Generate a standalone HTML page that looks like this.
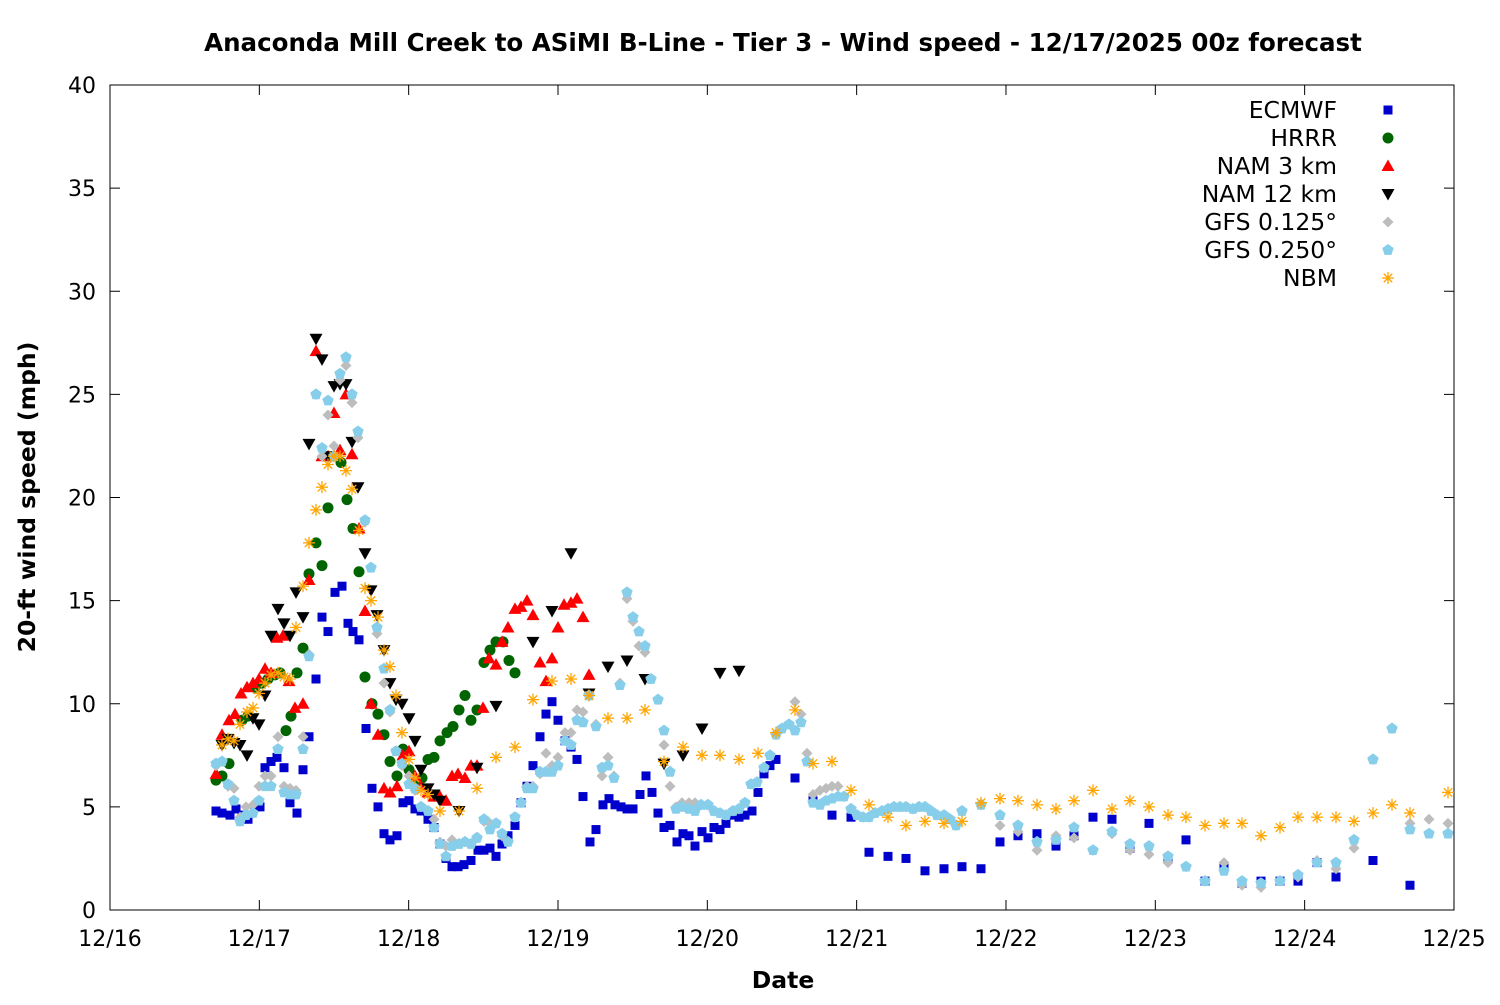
<!DOCTYPE html>
<html><head><meta charset="utf-8"><style>
html,body{margin:0;padding:0;background:#fff;}
svg text{font-family:"DejaVu Sans","Liberation Sans",sans-serif;}
</style></head><body>
<svg id="s" width="1500" height="1000" xmlns="http://www.w3.org/2000/svg">
<rect width="1500" height="1000" fill="#fff"/>
<text x="783" y="51" font-size="24.5" font-weight="bold" text-anchor="middle">Anaconda Mill Creek to ASiMI B-Line - Tier 3 - Wind speed - 12/17/2025 00z forecast</text>
<rect x="110" y="85" width="1344" height="825" fill="none" stroke="#000" stroke-width="1"/>
<g id="ax" font-size="22"></g>
<text transform="translate(35,497) rotate(-90)" font-size="23.5" font-weight="bold" text-anchor="middle">20-ft wind speed (mph)</text>
<text x="783" y="988" font-size="23.5" font-weight="bold" text-anchor="middle">Date</text>
<g id="pts"></g>
<g id="leg" font-size="23.5"></g>
</svg>
<script>
var NS="http://www.w3.org/2000/svg";
function el(t,a,p){var e=document.createElementNS(NS,t);for(var k in a)e.setAttribute(k,a[k]);(p||document.getElementById('pts')).appendChild(e);return e;}
function Y(v){return 910-v*20.625;}
var ax=document.getElementById('ax');
for(var i=0;i<=8;i++){var v=i*5,y=Y(v);
 el('line',{x1:110,y1:y,x2:120,y2:y,stroke:'#000'},ax);el('line',{x1:1454,y1:y,x2:1444,y2:y,stroke:'#000'},ax);
 var t=el('text',{x:96,y:y+8,'text-anchor':'end'},ax);t.textContent=v;}
var days=['12/16','12/17','12/18','12/19','12/20','12/21','12/22','12/23','12/24','12/25'];
for(var i=0;i<10;i++){var x=110+i*149.33;
 el('line',{x1:x,y1:910,x2:x,y2:900,stroke:'#000'},ax);el('line',{x1:x,y1:85,x2:x,y2:95,stroke:'#000'},ax);
 var t=el('text',{x:x,y:946,'text-anchor':'middle'},ax);t.textContent=days[i];}
function mk(type,x,y,g){
 if(type==0)el('rect',{x:x-4.5,y:y-4.5,width:9,height:9,fill:'#0000cc'},g);
 else if(type==1)el('circle',{cx:x,cy:y,r:5.5,fill:'#006400'},g);
 else if(type==2)el('polygon',{points:(x)+','+(y-6.5)+' '+(x-6.5)+','+(y+5)+' '+(x+6.5)+','+(y+5),fill:'#ff0000'},g);
 else if(type==3)el('polygon',{points:(x)+','+(y+6.5)+' '+(x-6.5)+','+(y-5)+' '+(x+6.5)+','+(y-5),fill:'#000'},g);
 else if(type==4)el('polygon',{points:x+','+(y-5.5)+' '+(x+5.5)+','+y+' '+x+','+(y+5.5)+' '+(x-5.5)+','+y,fill:'#bdbdbd'},g);
 else if(type==5){var p=[];for(var k=0;k<5;k++){var a=-Math.PI/2+k*2*Math.PI/5;p.push((x+6*Math.cos(a)).toFixed(1)+','+(y+6*Math.sin(a)).toFixed(1));}el('polygon',{points:p.join(' '),fill:'#87ceeb'},g);}
 else {for(var k=0;k<4;k++){var a=k*Math.PI/4;el('line',{x1:x-6*Math.cos(a),y1:y-6*Math.sin(a),x2:x+6*Math.cos(a),y2:y+6*Math.sin(a),stroke:'#ffa500','stroke-width':1.3},g);}}
}
var D=[
[[216,4.8],[222,4.7],[230,4.6],[236,4.9],[242,4.6],[248,4.4],[255,5],[260,5],[265,6.9],[271,7.2],[277,7.4],[284,6.9],[290,5.2],[297,4.7],[303,6.8],[309,8.4],[316,11.2],[322,14.2],[328,13.5],[335,15.4],[342,15.7],[348,13.9],[353,13.5],[359,13.1],[366,8.8],[372,5.9],[378,5],[384,3.7],[390,3.4],[397,3.6],[403,5.2],[409,5.3],[415,4.9],[421,4.8],[428,4.4],[434,4],[440,3.2],[446,2.5],[452,2.1],[458,2.1],[464,2.2],[471,2.4],[478,2.9],[484,2.9],[490,3],[496,2.6],[502,3.2],[508,3.6],[515,4.1],[521,5.2],[527,6],[533,7],[540,8.4],[546,9.5],[552,10.1],[558,9.2],[565,8.2],[571,7.9],[577,7.3],[583,5.5],[590,3.3],[596,3.9],[603,5.1],[609,5.4],[615,5.1],[621,5],[627,4.9],[633,4.9],[640,5.6],[646,6.5],[652,5.7],[658,4.7],[664,4],[670,4.1],[677,3.3],[683,3.7],[689,3.6],[695,3.1],[702,3.8],[708,3.5],[714,4],[720,3.9],[726,4.2],[733,4.6],[739,4.5],[745,4.6],[752,4.8],[758,5.7],[764,6.6],[770,7],[776,7.3],[795,6.4],[813,5.3],[832,4.6],[851,4.5],[869,2.8],[888,2.6],[906,2.5],[925,1.9],[944,2],[962,2.1],[981,2],[1000,3.3],[1018,3.6],[1037,3.7],[1056,3.1],[1074,3.6],[1093,4.5],[1112,4.4],[1130,3],[1149,4.2],[1168,2.5],[1186,3.4],[1205,1.4],[1224,2.1],[1242,1.3],[1261,1.4],[1280,1.4],[1298,1.4],[1317,2.3],[1336,1.6],[1373,2.4],[1410,1.2]],
[[216,6.3],[222,6.5],[229,7.1],[242,9.2],[248,9.4],[255,10.8],[262,11],[268,11.2],[275,11.4],[280,11.5],[286,8.7],[291,9.4],[297,11.5],[303,12.7],[309,16.3],[316,17.8],[322,16.7],[328,19.5],[341,21.7],[347,19.9],[353,18.5],[359,16.4],[365,11.3],[372,10],[378,9.5],[384,8.5],[390,7.2],[397,6.5],[403,7.8],[409,6.8],[415,6.2],[422,6.4],[428,7.3],[434,7.4],[440,8.2],[447,8.6],[453,8.9],[459,9.7],[465,10.4],[471,9.2],[477,9.7],[484,12],[490,12.6],[496,13],[503,13],[509,12.1],[515,11.5]],
[[216,6.6],[222,8.5],[229,9.2],[235,9.5],[241,10.5],[247,10.8],[253,11],[259,11.2],[265,11.7],[271,11.5],[277,13.2],[283,13.3],[289,11.1],[295,9.8],[303,10],[309,16],[316,27.1],[322,22],[328,22],[334,24.1],[340,22.3],[346,25],[352,22.1],[359,18.5],[365,14.5],[371,10],[378,8.5],[384,5.9],[390,5.7],[397,6],[403,7.5],[409,7.7],[415,6.5],[421,6],[428,5.7],[434,5.5],[440,5.5],[446,5.3],[452,6.5],[458,6.6],[465,6.4],[471,7],[477,7],[483,9.8],[489,12.2],[496,11.9],[502,13],[508,13.7],[515,14.6],[521,14.7],[527,15],[533,14.3],[540,12],[546,11.1],[552,12.2],[558,13.7],[564,14.8],[571,14.9],[577,15.1],[583,14.2],[589,11.4]],
[[222,8],[228,8.3],[234,8.1],[240,8],[247,7.5],[253,9.3],[259,9],[265,10.4],[271,13.3],[278,14.6],[284,13.9],[290,13.3],[296,15.4],[303,14.2],[309,22.6],[316,27.7],[322,26.7],[328,22],[334,25.4],[340,25.5],[346,25.5],[352,22.7],[358,20.5],[365,17.3],[371,15.5],[377,14.3],[384,12.6],[390,11],[396,10.2],[402,10],[409,9.3],[415,8.2],[421,6.8],[428,5.9],[434,5.6],[440,5.3],[459,4.8],[477,6.9],[496,9.9],[533,13],[552,14.5],[571,17.3],[589,10.5],[608,11.8],[627,12.1],[645,11.2],[664,7.1],[683,7.5],[702,8.8],[720,11.5],[739,11.6]],
[[216,7],[222,7.2],[228,6],[234,5.9],[240,4.5],[246,5],[253,5.1],[259,6],[265,6.5],[271,6.5],[278,8.4],[284,6],[290,5.9],[296,5.8],[303,8.4],[309,12.4],[316,25],[322,22],[328,24],[334,22.5],[340,25.7],[346,26.4],[352,24.6],[358,22.9],[365,18.8],[371,16.6],[377,13.4],[384,11],[390,9.6],[396,7.7],[402,7],[409,6.5],[415,5.8],[421,5],[428,4.8],[434,4.4],[440,3.3],[446,3.1],[452,3.4],[459,3.2],[465,3.3],[471,3.2],[477,3.5],[484,4.3],[490,4.2],[496,4.2],[502,3.6],[508,3.3],[515,4.5],[521,5.2],[527,6],[533,6],[540,6.6],[546,7.6],[552,7],[558,7.4],[565,8.6],[571,8.6],[577,9.7],[583,9.6],[589,10.4],[596,9],[602,6.5],[608,7.4],[614,6.5],[620,11],[627,15.1],[633,14],[639,12.8],[645,12.5],[651,11.2],[658,10.2],[664,8],[670,6],[676,5],[682,5.2],[689,5.2],[695,5.2],[701,5.1],[708,5.1],[714,4.8],[720,4.7],[726,4.6],[733,4.8],[739,4.9],[745,5.2],[751,6.1],[757,6.2],[764,6.9],[770,7.5],[776,8.5],[782,8.8],[789,9],[795,10.1],[801,9.5],[807,7.6],[813,5.6],[820,5.8],[826,5.9],[832,6],[838,6],[844,5.5],[851,4.9],[857,4.6],[863,4.5],[869,4.5],[875,4.7],[882,4.8],[888,4.9],[894,5],[900,5],[906,5],[913,4.9],[919,5],[925,5],[931,4.8],[937,4.6],[944,4.6],[950,4.4],[956,4.1],[962,4.8],[981,5.1],[1000,4.1],[1018,3.8],[1037,2.9],[1056,3.6],[1074,3.5],[1093,2.9],[1112,3.7],[1130,2.9],[1149,2.7],[1168,2.3],[1186,2.1],[1205,1.4],[1224,2.3],[1242,1.2],[1261,1.1],[1280,1.4],[1298,1.6],[1317,2.4],[1336,2],[1354,3],[1373,7.3],[1392,8.8],[1410,4.2],[1429,4.4],[1448,4.2]],
null,
[[222,8],[228,8.3],[234,8.2],[240,9],[247,9.6],[253,9.8],[259,10.5],[265,11],[271,11.4],[278,11.5],[284,11.3],[290,11.2],[296,13.7],[303,15.7],[309,17.8],[316,19.4],[322,20.5],[328,21.6],[334,22],[340,22],[346,21.3],[352,20.4],[359,18.4],[365,15.6],[371,15],[378,14.2],[384,12.6],[390,11.8],[396,10.4],[402,8.6],[409,7.3],[415,6.4],[421,5.8],[428,5.6],[440,4.8],[459,4.8],[477,5.9],[496,7.4],[515,7.9],[533,10.2],[552,11.1],[571,11.2],[589,10.4],[608,9.3],[627,9.3],[645,9.7],[664,7.2],[683,7.9],[702,7.5],[720,7.5],[739,7.3],[758,7.6],[776,8.6],[795,9.7],[813,7.1],[832,7.2],[851,5.8],[869,5.1],[888,4.5],[906,4.1],[925,4.3],[944,4.2],[962,4.3],[981,5.2],[1000,5.4],[1018,5.3],[1037,5.1],[1056,4.9],[1074,5.3],[1093,5.8],[1112,4.9],[1130,5.3],[1149,5],[1168,4.6],[1186,4.5],[1205,4.1],[1224,4.2],[1242,4.2],[1261,3.6],[1280,4],[1298,4.5],[1317,4.5],[1336,4.5],[1354,4.3],[1373,4.7],[1392,5.1],[1410,4.7],[1448,5.7]]
];
var ov={216:7.1,222:7.2,228:6.1,234:5.3,240:4.3,246:4.6,253:4.7,259:5.3,265:6,271:6,278:7.8,284:5.7,290:5.6,296:5.6,303:7.8,309:12.3,316:25,322:22.4,328:24.7,334:22,340:26,346:26.8,352:25,358:23.2,365:18.9,371:16.6,377:13.7,384:11.7,390:9.7,396:7.7,402:7.1,409:6.1,415:5.9,421:5,434:4,440:3.2,446:2.6,452:3.1,484:4.4,490:3.9,502:3.7,1410:3.9,1429:3.7,1448:3.7,1354:3.4,1336:2.3,1317:2.3,1298:1.7,1224:1.9,1242:1.4,1261:1.3,1093:2.9,1112:3.8,1130:3.2,1149:3.1,1168:2.6,1037:3.3,1056:3.4,1074:4,1000:4.6,1018:4.1,981:5.1,962:4.8,620:10.9,627:15.4,633:14.2,639:13.5,645:12.8,596:8.9,602:6.9,608:7,614:6.4,583:9.1,577:9.2,571:8,565:8.2,558:7,552:6.7,546:6.7,540:6.7,533:5.9,527:5.9,521:5.2,670:6.7,664:8.7,676:4.9,682:5,689:4.9,695:4.8,801:9.1,795:8.7,807:7.2,813:5.2,820:5.1,826:5.3,832:5.4,838:5.5};
D[5]=D[4].map(function(p){return [p[0], ov[p[0]]!==undefined?ov[p[0]]:p[1]];});
var g=document.getElementById('pts');
for(var s=0;s<7;s++){D[s].forEach(function(p){mk(s,p[0],Y(p[1]),g);});}
var names=['ECMWF','HRRR','NAM 3 km','NAM 12 km','GFS 0.125°','GFS 0.250°','NBM'];
var lg=document.getElementById('leg');
for(var i=0;i<7;i++){var y=110+i*28;var t=el('text',{x:1337,y:y+8,'text-anchor':'end'},lg);t.textContent=names[i];mk(i,1388,y,lg);}
</script>
</body></html>
